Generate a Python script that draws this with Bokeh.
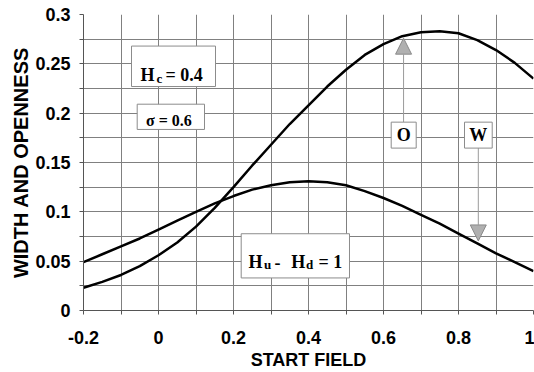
from bokeh.plotting import figure
from bokeh.models import (Range1d, FixedTicker, Label, BoxAnnotation, Arrow, NormalHead)
from bokeh.embed import file_html
from bokeh.resources import INLINE

# ---- data ----
start_field = [-0.2, -0.15, -0.1, -0.05, 0.0, 0.05, 0.1, 0.15, 0.2, 0.25, 0.3, 0.35,
               0.4, 0.45, 0.5, 0.55, 0.6, 0.65, 0.7, 0.75, 0.8, 0.85, 0.9, 0.95, 1.0]
openness = [0.023, 0.029, 0.036, 0.045, 0.056, 0.069, 0.085, 0.104, 0.125, 0.147, 0.168, 0.189,
            0.208, 0.227, 0.244, 0.259, 0.270, 0.278, 0.282, 0.283, 0.281, 0.274, 0.264, 0.251, 0.235]
width_vals = [0.049, 0.057, 0.065, 0.073, 0.082, 0.091, 0.100, 0.1085, 0.1160, 0.1225, 0.1270, 0.1300,
              0.131, 0.130, 0.127, 0.121, 0.114, 0.106, 0.097, 0.088, 0.078, 0.068, 0.058, 0.049, 0.040]

x_ticks = [-0.2, 0.0, 0.2, 0.4, 0.6, 0.8, 1.0]
x_tick_labels = ["-0.2", "0", "0.2", "0.4", "0.6", "0.8", "1"]
x_minor = [-0.1, 0.1, 0.3, 0.5, 0.7, 0.9]
y_ticks = [0.0, 0.05, 0.1, 0.15, 0.2, 0.25, 0.3]
y_tick_labels = ["0", "0.05", "0.1", "0.15", "0.2", "0.25", "0.3"]
y_minor = [0.025, 0.075, 0.125, 0.175, 0.225, 0.275]

GRID = "#808080"
SANS = "Liberation Sans"
SERIF = "Liberation Serif"

p = figure(width=534, height=372, output_backend="svg", toolbar_location=None,
           x_range=Range1d(-0.2, 1.0), y_range=Range1d(0.0, 0.3),
           min_border_left=83, min_border_right=1, min_border_top=14, min_border_bottom=61)
p.outline_line_color = None
p.background_fill_color = "white"
p.border_fill_color = "white"

p.xaxis.ticker = FixedTicker(ticks=x_ticks, minor_ticks=x_minor)
p.yaxis.ticker = FixedTicker(ticks=y_ticks, minor_ticks=y_minor)
p.xaxis.major_label_overrides = {t: l for t, l in zip(x_ticks, x_tick_labels)}
p.yaxis.major_label_overrides = {t: l for t, l in zip(y_ticks, y_tick_labels)}

for ax in (p.xaxis, p.yaxis):
    ax.major_label_text_font = SANS
    ax.major_label_text_font_style = "bold"
    ax.major_label_text_font_size = "18px"
    ax.major_label_text_color = "black"
    ax.axis_label_text_font = SANS
    ax.axis_label_text_font_style = "bold"
    ax.axis_label_text_color = "black"
    ax.axis_line_color = "#555555"
    ax.major_tick_line_color = "#555555"
    ax.minor_tick_line_color = "#555555"
    ax.major_tick_in = 0
    ax.major_tick_out = 4
    ax.minor_tick_in = 0
    ax.minor_tick_out = 4

p.xaxis.axis_label = "START FIELD"
p.xaxis.axis_label_text_font_size = "18px"
p.xaxis.major_label_standoff = 16
p.xaxis.axis_label_standoff = 3
p.yaxis.axis_label = "WIDTH AND OPENNESS"
p.yaxis.axis_label_text_font_size = "20px"
p.yaxis.major_label_standoff = 9
p.yaxis.axis_label_standoff = 0

for g in (p.xgrid, p.ygrid):
    g.grid_line_color = GRID
    g.grid_line_width = 1
    g.minor_grid_line_color = GRID
    g.minor_grid_line_width = 1
p.xgrid.ticker = p.xaxis.ticker
p.ygrid.ticker = p.yaxis.ticker

# ---- curves ----
p.line(start_field, openness, line_color="black", line_width=2.5)
p.line(start_field, width_vals, line_color="black", line_width=2.5)

# ---- arrows ----
arrow_col = "#9a9a9a"
p.add_layout(Arrow(end=NormalHead(size=16, fill_color="#b0b0b0", line_color="#8a8a8a", line_width=1),
                   x_start=0.6535, y_start=0.1909, x_end=0.6535, y_end=0.276,
                   line_color=arrow_col, line_width=1))
p.add_layout(Arrow(end=NormalHead(size=16, fill_color="#b0b0b0", line_color="#8a8a8a", line_width=1),
                   x_start=0.8528, y_start=0.1646, x_end=0.8528, y_end=0.0705,
                   line_color=arrow_col, line_width=1))

# ---- boxes ----
def box(l, r, t, b):
    p.add_layout(BoxAnnotation(left=l, right=r, top=t, bottom=b, fill_color="white", fill_alpha=1,
                               line_color="#8c8c8c", line_alpha=1, line_width=1, level="annotation"))

def txt(x, y, s, size, align="left", baseline="alphabetic", style="bold"):
    p.add_layout(Label(x=x, y=y, text=s, text_font=SERIF, text_font_style=style,
                       text_font_size=size, text_color="black", text_align=align,
                       text_baseline=baseline))

box(-0.072, 0.152, 0.268, 0.227)
txt(-0.048, 0.2384, "H", "18px")
txt(-0.0053, 0.2354, "c", "13px")
txt(0.0187, 0.2384, "= 0.4", "18px")

box(-0.0568, 0.1227, 0.2091, 0.1835)
txt(-0.0335, 0.1922, "\u03c3 = 0.6", "16px")

box(0.2205, 0.5093, 0.0778, 0.0330)
txt(0.240, 0.0488, "H", "18px")
txt(0.2813, 0.0465, "u", "13px")
txt(0.3093, 0.0488, "-", "18px")
txt(0.3539, 0.0488, "H", "18px")
txt(0.3931, 0.0465, "d", "13px")
txt(0.4267, 0.0488, "= 1", "18px")

box(0.6205, 0.6872, 0.1909, 0.1646)
txt(0.6539, 0.1778, "O", "18px", align="center", baseline="middle")
box(0.816, 0.8899, 0.1909, 0.1646)
txt(0.8528, 0.1778, "W", "18px", align="center", baseline="middle")

open("out.html", "w").write(file_html(p, INLINE))
